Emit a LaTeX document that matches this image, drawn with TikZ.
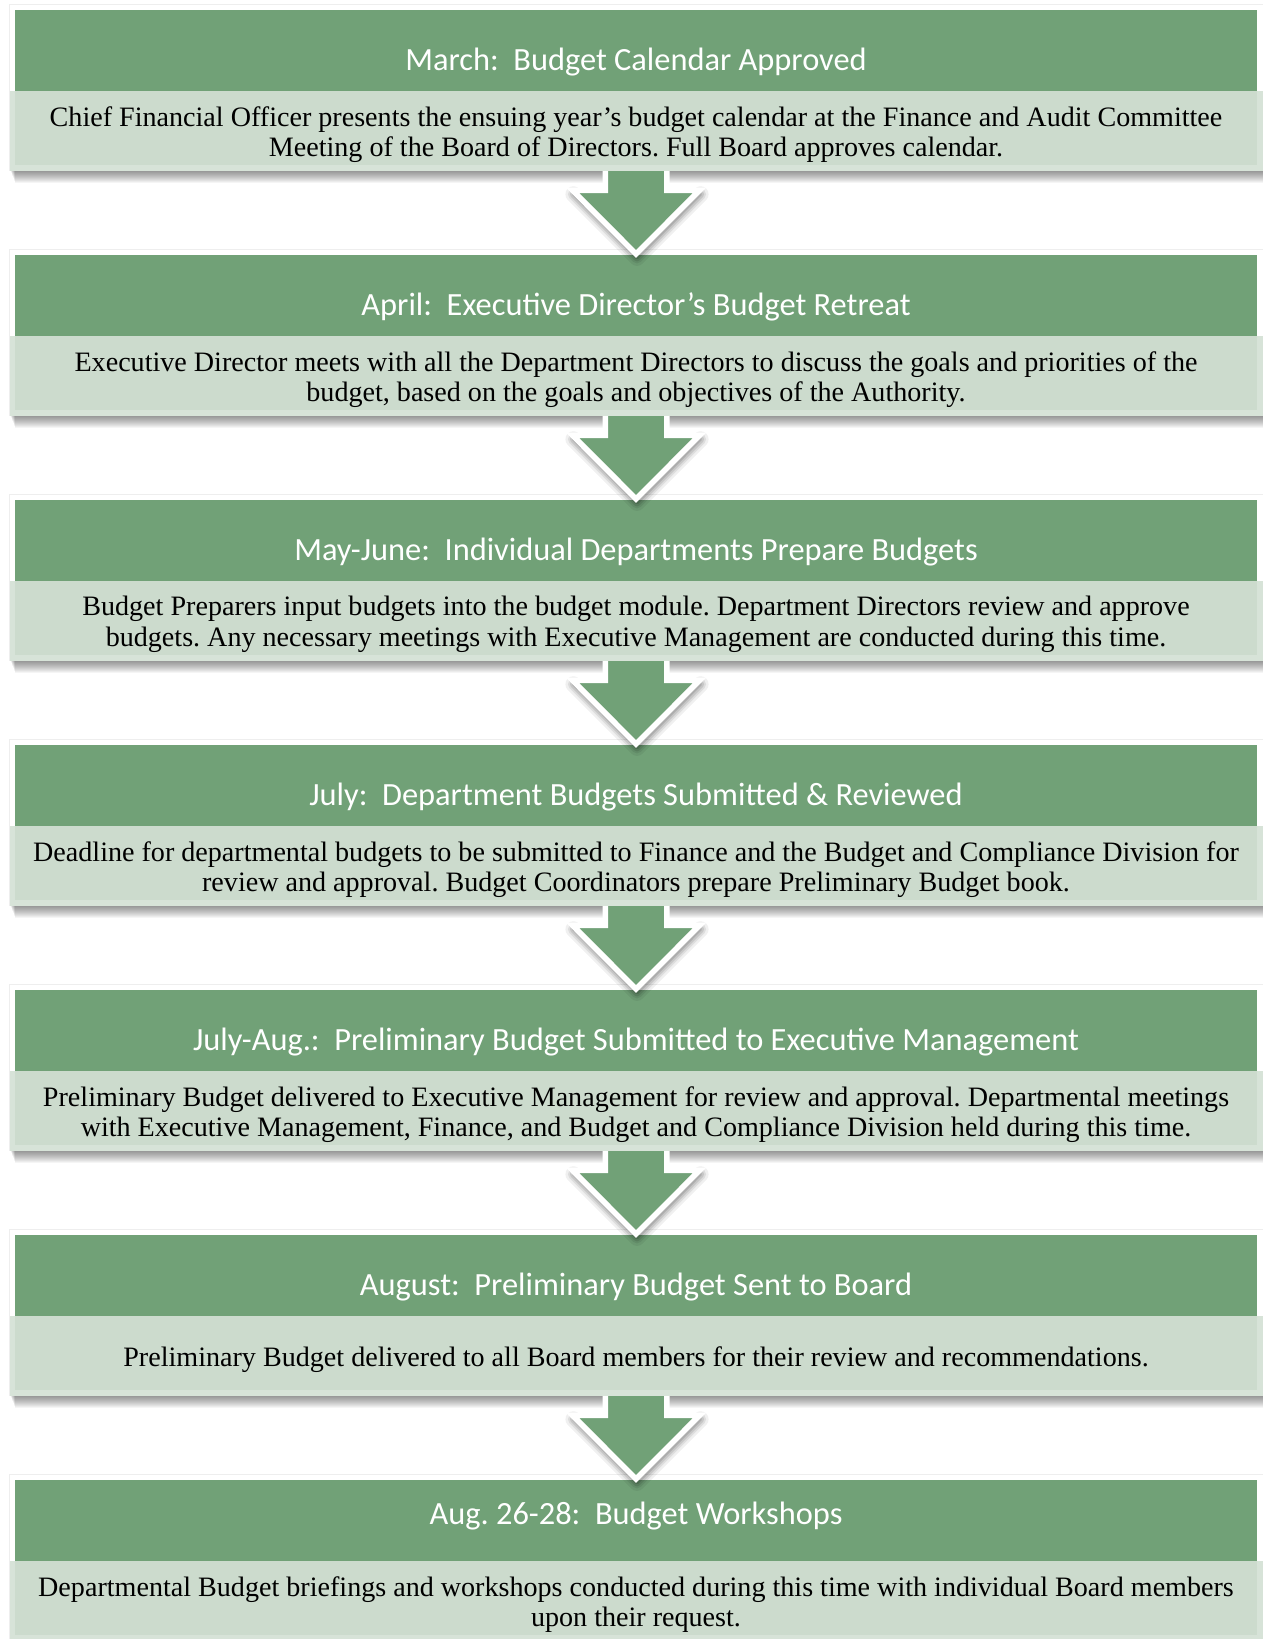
\documentclass[tikz,border=0pt]{standalone}
\usepackage{fontspec}
\setmainfont{Liberation Serif}
\newfontfamily\headfont{Carlito}
\usetikzlibrary{calc}
\pgfdeclarelayer{shadowlayer}
\pgfdeclarelayer{headlayer}
\pgfdeclarelayer{arrowlayer}
\pgfsetlayers{shadowlayer,headlayer,arrowlayer,main}

\definecolor{stagegreen}{RGB}{113,161,119}
\definecolor{stagepale}{RGB}{204,219,205}
\definecolor{stagerim}{RGB}{215,227,216}
\definecolor{edgegray}{RGB}{238,238,238}

\begin{document}
\frenchspacing
\begin{tikzpicture}[x=0.5pt,y=-0.5pt,
  headband/.style={rectangle,fill=stagegreen,minimum width=621pt,minimum height=40.5pt,inner sep=0,outer sep=0},
  bodyband/.style={rectangle,fill=stagepale,minimum width=621pt,minimum height=37pt,inner sep=0,outer sep=0},
  headrim/.style={draw=white,line width=2.75pt},
  bodyrim/.style={draw=stagerim,line width=2.75pt},
  titletext/.style={text=white,font=\headfont\fontsize{16.2}{20}\selectfont,anchor=base,inner sep=0},
  bodytext/.style={text=black,font=\fontsize{14.05}{15.35}\selectfont,align=center,inner sep=0},
  shadowlayerfill/.style={black,opacity=0.04},
  arrowbody/.style={fill=stagegreen},
  arrowrim/.style={draw=white,line width=2.75pt,line join=miter},
]
\useasboundingbox (0,0) rectangle (1263,1639);
\begin{pgfonlayer}{shadowlayer}
  \fill[white] (0,0) rectangle (1263,1639);
\end{pgfonlayer}

% stages: index / heading / heading baseline offset / description
\foreach \i/\ttl/\tb/\txt in {
  0/{March:~~Budget Calendar Approved}/60/{Chief Financial Officer presents the ensuing year’s budget calendar at the Finance and Audit Committee\\Meeting of the Board of Directors. Full Board approves calendar.},
  1/{April:~~Executive Director’s Budget Retreat}/60/{Executive Director meets with all the Department Directors to discuss the goals and priorities of the\\budget, based on the goals and objectives of the Authority.},
  2/{May-June:~~Individual Departments Prepare Budgets}/60/{Budget Preparers input budgets into the budget module. Department Directors review and approve\\budgets. Any necessary meetings with Executive Management are conducted during this time.},
  3/{July:~~Department Budgets Submitted \& Reviewed}/60/{Deadline for departmental budgets to be submitted to Finance and the Budget and Compliance Division for\\review and approval. Budget Coordinators prepare Preliminary Budget book.},
  4/{July-Aug.:~~Preliminary Budget Submitted to Executive Management}/60/{Preliminary Budget delivered to Executive Management for review and approval. Departmental meetings\\with Executive Management, Finance, and Budget and Compliance Division held during this time.},
  5/{August:~~Preliminary Budget Sent to Board}/60/{Preliminary Budget delivered to all Board members for their review and recommendations.},
  6/{Aug. 26-28:~~Budget Workshops}/44/{Departmental Budget briefings and workshops conducted during this time with individual Board members\\upon their request.}%
}{
  \pgfmathsetmacro\T{10+245*\i}
  \begin{pgfonlayer}{shadowlayer}
    \fill[edgegray] (8.5,{\T-6.5}) rectangle (1263,{\T+161});
    % soft drop shadow under the description band
    \foreach \k in {0,...,13}{
      \fill[shadowlayerfill] ({10+0.4*\k},{\T+159}) rectangle ({1263},{\T+160+\k});
    }
  \end{pgfonlayer}
  \begin{pgfonlayer}{headlayer}
    \node[headband] (h\i) at (636,{\T+40.5}) {};
    \draw[headrim] ($(h\i.south west)+(-2.75,0)$) |- ($(h\i.north east)+(2.75,-2.75)$) -- ($(h\i.south east)+(2.75,0)$);
    \node[titletext] (t\i) at (636,{\T+\tb}) {\ttl};
  \end{pgfonlayer}
  \node[bodyband] (b\i) at (636,{\T+118}) {};
  \draw[bodyrim] ($(b\i.north west)+(-2.75,0)$) -- ($(b\i.south west)+(-2.75,2.75)$) -- ($(b\i.south east)+(2.75,2.75)$) -- ($(b\i.north east)+(2.75,0)$);
  \node[bodytext] (d\i) at ($(b\i.center)+(0,6.5)$) {\txt};
}

% block arrows from each stage to the next
\begin{pgfonlayer}{arrowlayer}
\foreach \i in {0,...,5}{
  \pgfmathtruncatemacro\j{\i+1}
  \coordinate (sa\i) at ($(b\i.south)+(-30.75,-6)$);
  \coordinate (sb\i) at ($(b\i.south)+(-30.75,25.25)$);
  \coordinate (sc\i) at ($(b\i.south)+(-63.6,25.25)$);
  \coordinate (tip\i) at ($(h\j.north)+(0,-1.1)$);
  \coordinate (sd\i) at ($(b\i.south)+(63.6,25.25)$);
  \coordinate (se\i) at ($(b\i.south)+(30.75,25.25)$);
  \coordinate (sf\i) at ($(b\i.south)+(30.75,-6)$);
  \begin{scope}[transform canvas={shift={(1,4)}}]
    \foreach \w/\o in {16/0.06,11/0.08,7/0.1,3/0.12}{
      \draw[black,opacity=\o,line width=\w*0.5pt,line join=round,line cap=round] (sc\i) -- (tip\i) -- (sd\i);
    }
  \end{scope}
  \fill[arrowbody] (sa\i) -- (sb\i) -- (sc\i) -- (tip\i) -- (sd\i) -- (se\i) -- (sf\i) -- cycle;
  \draw[arrowrim] (sa\i) -- (sb\i) -- (sc\i) -- (tip\i) -- (sd\i) -- (se\i) -- (sf\i);
}
\end{pgfonlayer}
\end{tikzpicture}
\end{document}
